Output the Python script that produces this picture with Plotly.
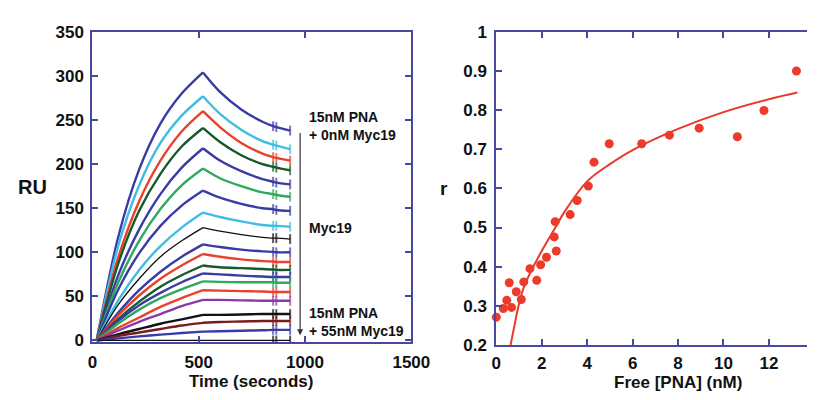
import plotly.graph_objects as go

# ---------------- Left panel: sensorgrams ----------------
t_assoc = [20, 120, 220, 320, 420, 520]
t_dissoc = [520, 600, 700, 800, 850, 865, 930]

ru_assoc = [
    [0, 116, 194, 246, 280, 304],
    [0, 106, 176, 224, 255, 277],
    [0, 93, 158, 204, 237, 260],
    [0, 86, 147, 189, 220, 241],
    [0, 73, 126, 166, 196, 218],
    [0, 65, 113, 149, 176, 195],
    [0, 57, 99, 130, 153, 170],
    [0, 45, 80, 107, 128, 145],
    [0, 40, 70, 95, 113, 128],
    [0, 31, 57, 78, 95, 109],
    [0, 28, 51, 70, 85, 98],
    [0, 24, 44, 61, 74, 85],
    [0, 22, 40, 54, 66, 76],
    [0, 19, 35, 48, 58, 67],
    [0, 14, 26, 38, 48, 57],
    [0, 11, 21, 30, 39, 46],
    [0, 7, 13, 19, 24, 29],
    [0, 5, 9, 13, 17, 20],
    [0, 2.4, 4.6, 6.6, 8.4, 10],
    [0, 0, 0, 0, 0, 0],
]
ru_dissoc = [
    [304, 282, 262, 248, 243, 242, 238],
    [277, 257, 239, 226, 222, 221, 217],
    [260, 242, 224, 212, 208, 207, 204],
    [241, 225, 210, 200, 197, 196, 193],
    [218, 204, 192, 183, 180, 179, 177],
    [195, 184, 175, 168, 166, 165, 163],
    [170, 162, 155, 150, 149, 148, 147],
    [145, 140, 135, 131, 130, 130, 129],
    [128, 124, 120, 117, 116, 116, 115],
    [109, 106, 103, 101, 100.5, 100, 100],
    [98, 95, 92, 90, 89.5, 89, 89],
    [85, 83, 82, 81, 80.5, 80, 80],
    [76, 75, 73.5, 72.5, 72, 72, 72],
    [67, 66.5, 66, 66, 66, 65.5, 65.5],
    [57, 56.5, 56, 55.5, 55, 55, 55],
    [46, 46, 45.5, 45, 45, 45, 45],
    [29, 29, 29.5, 30, 30, 30, 30],
    [20, 21, 21.5, 22, 22, 22, 22],
    [10, 10.5, 11, 11.5, 12, 12, 12],
    [0, 0, 0, 0, 0, 0, 0],
]
curve_colors = [
    "#3b3ba6", "#3fbde3", "#e8412c", "#17592a", "#3b3ba6", "#2eaa5c", "#3b3ba6",
    "#3fbde3", "#111111", "#3b3ba6", "#e8412c", "#17592a", "#3b3ba6", "#2eaa5c",
    "#e8412c", "#8a3aa8", "#111111", "#7a1c1c", "#3b3ba6", "#111111",
]
curve_widths = [2.4] * 8 + [1.3] + [2.4] * 10 + [1.3]
end_marks = [0, 0, 0, 0, 7, 7, 7]

left_xticks = [0, 500, 1000, 1500]
left_yticks = [0, 50, 100, 150, 200, 250, 300, 350]

# ---------------- Right panel: binding isotherm ----------------
free_pna = [0.0, 0.31, 0.46, 0.57, 0.67, 0.88, 1.10, 1.21, 1.48, 1.78, 1.95, 2.21,
            2.55, 2.59, 2.64, 3.25, 3.56, 4.05, 4.30, 4.97, 6.40, 7.62, 8.93,
            10.61, 11.78, 13.21]
r_vals = [0.271, 0.293, 0.314, 0.359, 0.296, 0.336, 0.316, 0.361, 0.395, 0.365,
          0.405, 0.424, 0.476, 0.515, 0.440, 0.533, 0.569, 0.606, 0.667, 0.714,
          0.714, 0.736, 0.754, 0.732, 0.799, 0.900]
fit_x = [0.63, 0.8, 1.0, 1.2, 1.5, 2.0, 2.6, 3.0, 4.0, 5.0, 6.0, 8.0, 10.0, 12.0, 13.25]
fit_y = [0.2, 0.25, 0.305, 0.345, 0.385, 0.44, 0.5, 0.54, 0.618, 0.662, 0.698,
         0.752, 0.795, 0.828, 0.845]

right_xticks = [0, 2, 4, 6, 8, 10, 12]
right_yticks = [0.2, 0.3, 0.4, 0.5, 0.6, 0.7, 0.8, 0.9, 1.0]
right_yticktext = ["0.2", "0.3", "0.4", "0.5", "0.6", "0.7", "0.8", "0.9", "1"]

AX = "#4848a0"
FONT = "Liberation Sans, Arial, sans-serif"

fig = go.Figure()

for a, d, c, w in zip(ru_assoc, ru_dissoc, curve_colors, curve_widths):
    fig.add_trace(go.Scatter(x=t_assoc, y=a, mode="lines",
                             line=dict(color=c, width=w, shape="spline", smoothing=0.8),
                             xaxis="x", yaxis="y", showlegend=False, hoverinfo="skip"))
    fig.add_trace(go.Scatter(x=t_dissoc, y=d, mode="lines+markers",
                             line=dict(color=c, width=w, shape="spline", smoothing=0.8),
                             marker=dict(symbol="line-ns", size=end_marks,
                                         line=dict(color=c, width=2)),
                             xaxis="x", yaxis="y", showlegend=False, hoverinfo="skip"))

fig.add_trace(go.Scatter(x=fit_x, y=fit_y, mode="lines",
                         line=dict(color="#e8392a", width=2, shape="spline"),
                         xaxis="x2", yaxis="y2", showlegend=False))
fig.add_trace(go.Scatter(x=free_pna, y=r_vals, mode="markers",
                         marker=dict(color="#ec3b2a", size=9),
                         cliponaxis=False,
                         xaxis="x2", yaxis="y2", showlegend=False))

tickfont = dict(family=FONT, size=17, color="#111")
common = dict(showgrid=False, zeroline=False, showline=True, linecolor=AX, linewidth=2,
              ticks="inside", ticklen=6, tickwidth=2, tickcolor=AX, tickfont=tickfont)

fig.update_layout(
    width=826, height=400,
    margin=dict(l=0, r=0, t=0, b=0),
    paper_bgcolor="white", plot_bgcolor="white",
    xaxis=dict(domain=[90 / 826, 418.5 / 826], range=[0, 1500], tickvals=left_xticks,
               ticktext=[f"<b>{v}</b>" for v in left_xticks], mirror="allticks",
               anchor="y", ticklabelstandoff=3, **common),
    yaxis=dict(domain=[0.1254, 0.94], range=[-2, 350], tickvals=left_yticks,
               ticktext=[f"<b>{v}</b>" for v in left_yticks], mirror="allticks",
               anchor="x", ticklabelstandoff=3, **common),
    xaxis2=dict(domain=[506 / 826, 1.0], range=[0, 13.675], tickvals=right_xticks,
                ticktext=[f"<b>{v}</b>" for v in right_xticks], mirror="allticks",
                anchor="y2", ticklabelstandoff=2, **common),
    yaxis2=dict(domain=[0.11825, 0.94], range=[0.2, 1.0], tickvals=right_yticks,
                ticktext=[f"<b>{v}</b>" for v in right_yticktext], mirror=False,
                anchor="x2", ticklabelstandoff=4, **common),
)

def ann(text, x, y, size=14, xanchor="left"):
    fig.add_annotation(text=f"<b>{text}</b>", x=x, y=y, xref="paper", yref="paper",
                       showarrow=False, xanchor=xanchor, yanchor="middle", align="left",
                       font=dict(family=FONT, size=size, color="#111"))

ann("15nM PNA<br>+ 0nM Myc19", 311 / 826, 1 - 123 / 400, size=14)
ann("Myc19", 311 / 826, 1 - 230 / 400, size=14)
ann("15nM PNA<br>+ 55nM Myc19", 311 / 826, 1 - 329 / 400, size=14)
ann("RU", 28 / 826, 1 - 187 / 400, size=20, xanchor="center")
ann("Time (seconds)", 253 / 826, 1 - 391 / 400, size=17, xanchor="center")
ann("r", 452 / 826, 1 - 188 / 400, size=19, xanchor="center")
ann("Free [PNA] (nM)", 693 / 826, 1 - 392 / 400, size=17, xanchor="center")

fig.add_annotation(x=977, y=6, ax=977, ay=237, xref="x", yref="y", axref="x", ayref="y",
                   showarrow=True, arrowhead=2, arrowsize=1, arrowwidth=1.2,
                   arrowcolor="#333", text="")

fig.write_html("out.html")
